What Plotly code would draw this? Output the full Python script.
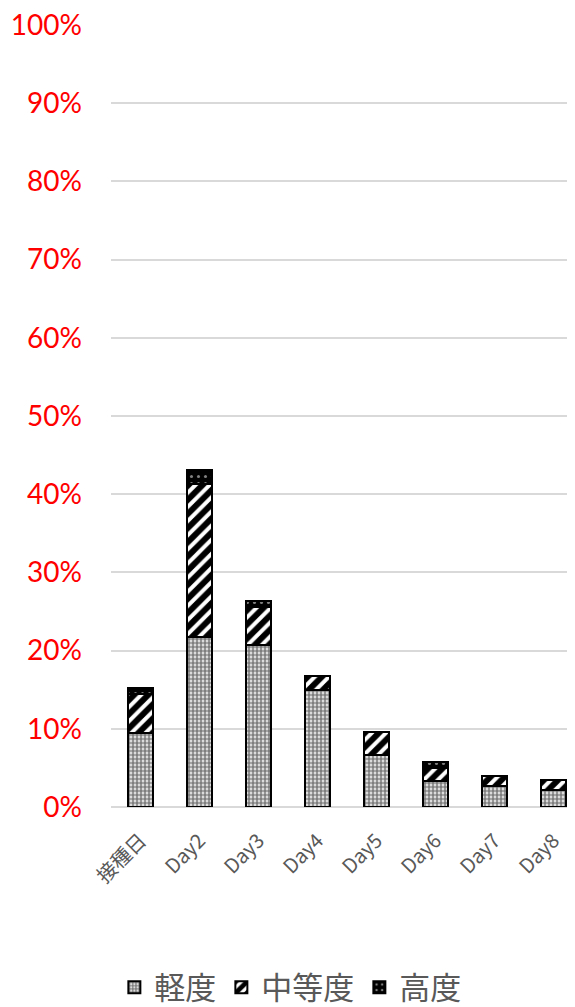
import plotly.graph_objects as go

categories = ["接種日", "Day2", "Day3", "Day4", "Day5", "Day6", "Day7", "Day8"]
mild = [9.4, 21.8, 20.7, 14.9, 6.6, 3.3, 2.7, 2.2]
moderate = [5.1, 19.5, 4.9, 1.9, 3.0, 1.7, 1.3, 1.2]
severe = [0.7, 1.8, 0.7, 0.0, 0.0, 0.7, 0.0, 0.0]
series_names = ["軽度", "中等度", "高度"]
y_ticks = [0, 10, 20, 30, 40, 50, 60, 70, 80, 90, 100]
y_tick_labels = [f"{v}%" for v in y_ticks]

fig = go.Figure()
fig.add_trace(go.Bar(
    x=categories, y=mild, name=series_names[0],
    marker=dict(color="white", line=dict(color="black", width=2),
                pattern=dict(shape=".", fgcolor="black", bgcolor="white", size=4, solidity=0.7)),
))
fig.add_trace(go.Bar(
    x=categories, y=moderate, name=series_names[1],
    marker=dict(color="white", line=dict(color="black", width=2),
                pattern=dict(shape="/", fgcolor="black", bgcolor="white", size=10, solidity=0.6,
                             fgopacity=1)),
))
fig.add_trace(go.Bar(
    x=categories, y=severe, name=series_names[2],
    marker=dict(color="black", line=dict(color="black", width=2),
                pattern=dict(shape=".", fgcolor="white", bgcolor="black", size=7, solidity=0.15)),
))

fig.update_layout(
    barmode="stack",
    bargap=0.58,
    width=575, height=1007,
    margin=dict(l=103, r=0, t=17, b=206),
    plot_bgcolor="white", paper_bgcolor="white",
    showlegend=True,
    legend=dict(orientation="h", x=0.38, xanchor="center", y=-0.231, yanchor="middle",
                font=dict(family="Noto Sans CJK JP", size=31, color="#595959"),
                traceorder="normal", itemwidth=30),
    xaxis=dict(range=[-0.5, 7.5], tickangle=-45, showgrid=False, showline=False,
               automargin=False, ticklabelstandoff=17,
               tickfont=dict(family="Noto Sans CJK JP", size=20, color="#595959"),
               ticks=""),
    yaxis=dict(range=[0, 100], tickvals=y_ticks, ticktext=y_tick_labels,
               automargin=False, ticklabeloverflow="allow",
               showgrid=True, gridcolor="#d9d9d9", gridwidth=1.5,
               zeroline=True, zerolinecolor="#d9d9d9", zerolinewidth=1.5,
               showline=False, ticks="", ticklabelstandoff=28,
               tickfont=dict(family="Lato", size=28, color="red")),
)

fig.write_html("out.html")
